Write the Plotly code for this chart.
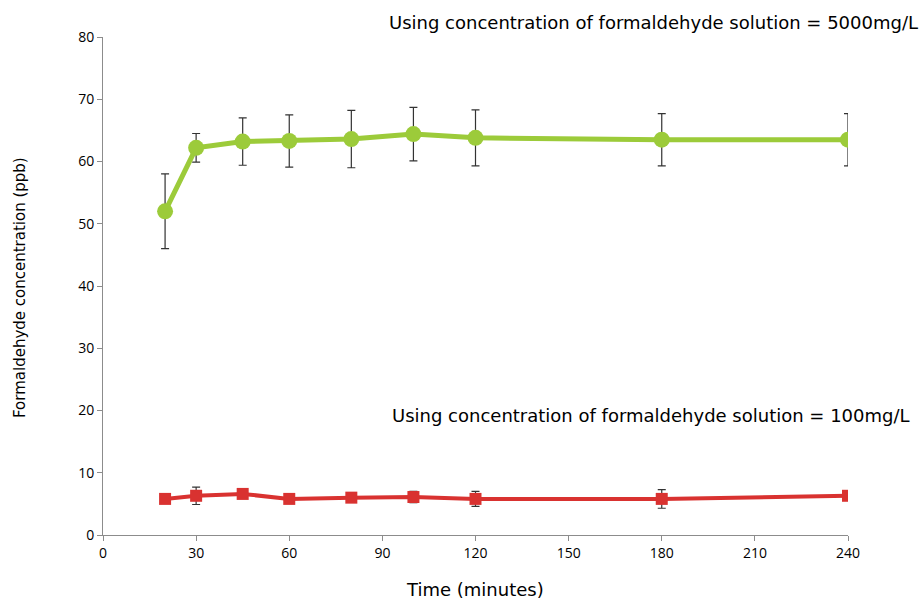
import plotly.graph_objects as go

# Sampling times (minutes)
time_min = [20, 30, 45, 60, 80, 100, 120, 180, 240]

# Formaldehyde concentration (ppb), 5000 mg/L solution
conc_5000 = [52.0, 62.2, 63.2, 63.3, 63.6, 64.4, 63.8, 63.5, 63.5]
err_5000 = [6.0, 2.3, 3.8, 4.2, 4.6, 4.3, 4.5, 4.2, 4.2]

# Formaldehyde concentration (ppb), 100 mg/L solution
conc_100 = [5.8, 6.3, 6.6, 5.8, 6.0, 6.1, 5.8, 5.8, 6.3]
err_100 = [0.4, 1.4, 0.3, 0.3, 0.6, 0.9, 1.2, 1.5, 0.3]

x_ticks = [0, 30, 60, 90, 120, 150, 180, 210, 240]
y_ticks = [0, 10, 20, 30, 40, 50, 60, 70, 80]

TICK_FONT = "Open Sans, Liberation Sans, sans-serif"
TEXT_FONT = "DejaVu Sans, Verdana, sans-serif"

fig = go.Figure()

fig.add_trace(go.Scatter(
    x=time_min, y=conc_5000, mode="lines+markers",
    line=dict(color="#9CCB3A", width=5),
    marker=dict(symbol="circle", size=16, color="#9CCB3A"),
    error_y=dict(type="data", array=err_5000, visible=True,
                 color="#333333", thickness=1.2, width=4),
    showlegend=False,
))

fig.add_trace(go.Scatter(
    x=time_min, y=conc_100, mode="lines+markers",
    line=dict(color="#D93230", width=4),
    marker=dict(symbol="square", size=12, color="#D93230"),
    error_y=dict(type="data", array=err_100, visible=True,
                 color="#333333", thickness=1.2, width=4),
    showlegend=False,
))

# Series labels
fig.add_annotation(
    text="Using concentration of formaldehyde solution = 5000mg/L",
    xref="paper", yref="paper", x=1.097, y=1.030, xanchor="right", yanchor="middle",
    showarrow=False, font=dict(family=TEXT_FONT, size=18, color="#000000"),
)
fig.add_annotation(
    text="Using concentration of formaldehyde solution = 100mg/L",
    xref="paper", yref="paper", x=1.086, y=0.239, xanchor="right", yanchor="middle",
    showarrow=False, font=dict(family=TEXT_FONT, size=18, color="#000000"),
)

# Axis titles placed in the margins
fig.add_annotation(
    text="Time (minutes)",
    xref="paper", yref="paper", x=(475 - 103) / 745, y=-(589 - 535) / 498,
    xanchor="center", yanchor="middle", showarrow=False,
    font=dict(family=TEXT_FONT, size=18, color="#000000"),
)
fig.add_annotation(
    text="Formaldehyde concentration (ppb)",
    xref="paper", yref="paper", x=-(103 - 20) / 745, y=(535 - 288) / 498,
    xanchor="center", yanchor="middle", textangle=-90, showarrow=False,
    font=dict(family=TEXT_FONT, size=15, color="#000000"),
)

fig.update_layout(
    width=923, height=600,
    margin=dict(l=103, r=75, t=37, b=65),
    paper_bgcolor="white", plot_bgcolor="white",
    font=dict(family=TICK_FONT, size=14, color="#000000"),
    xaxis=dict(
        range=[0, 240], tickvals=x_ticks, ticktext=[str(v) for v in x_ticks],
        showgrid=False, zeroline=False, showline=True, linecolor="#8c8c8c", linewidth=1,
        ticks="outside", ticklen=5, tickcolor="#8c8c8c", automargin=False,
        tickfont=dict(family=TICK_FONT, size=14),
    ),
    yaxis=dict(
        range=[0, 80], tickvals=y_ticks, ticktext=[str(v) for v in y_ticks],
        showgrid=False, zeroline=False, showline=True, linecolor="#8c8c8c", linewidth=1,
        ticks="outside", ticklen=5, tickcolor="#8c8c8c", automargin=False,
        tickfont=dict(family=TICK_FONT, size=14),
    ),
)

fig.write_html("out.html")
